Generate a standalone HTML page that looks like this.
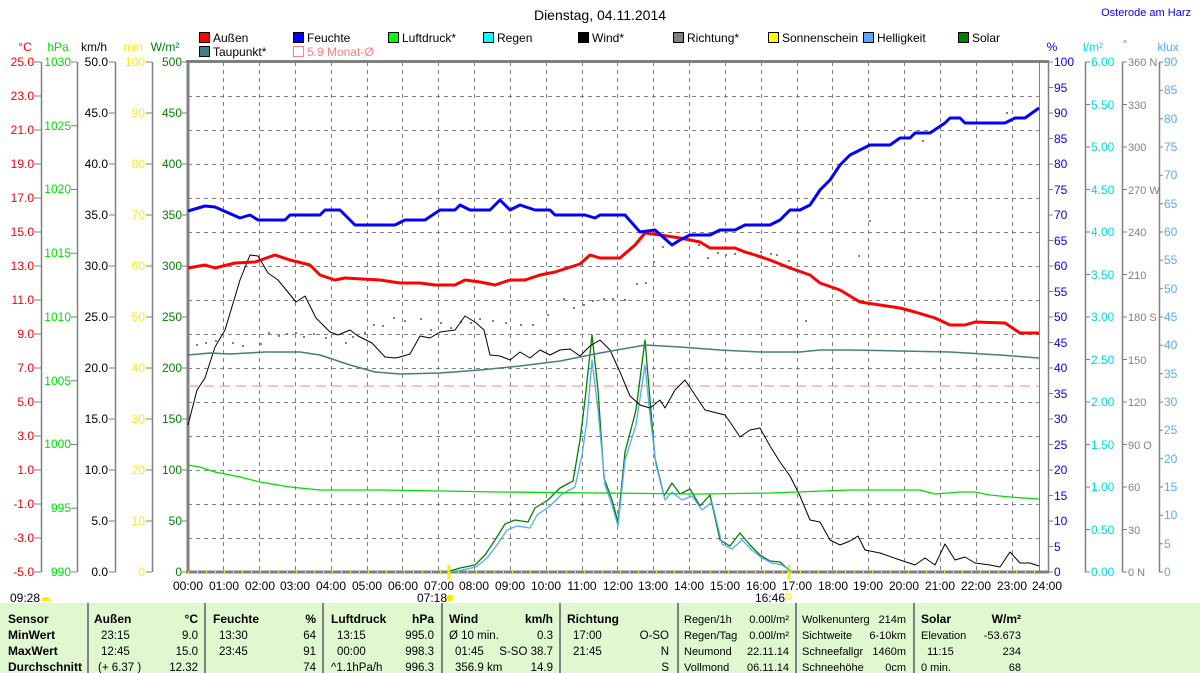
<!DOCTYPE html>
<html><head><meta charset="utf-8"><style>
html,body{margin:0;padding:0;background:#fff;width:1200px;height:673px;overflow:hidden}
svg{display:block;font-family:"Liberation Sans",sans-serif}
</style></head><body>
<svg width="1200" height="673" viewBox="0 0 1200 673" xmlns="http://www.w3.org/2000/svg" font-size="12">
<text x="600" y="20" text-anchor="middle" font-size="14">Dienstag, 04.11.2014</text>
<text x="1191" y="16" text-anchor="end" font-size="11" fill="#0000ff">Osterode am Harz</text>
<!-- legend -->
<g font-size="12">
<rect x="199.5" y="32.5" width="10" height="10" fill="#ff0000" stroke="#000"/><text x="213" y="42">Außen</text>
<rect x="293.5" y="32.5" width="10" height="10" fill="#0000ff" stroke="#000"/><text x="307" y="42">Feuchte</text>
<rect x="388.5" y="32.5" width="10" height="10" fill="#00ff00" stroke="#000"/><text x="402" y="42">Luftdruck*</text>
<rect x="483.5" y="32.5" width="10" height="10" fill="#00ffff" stroke="#000"/><text x="497" y="42">Regen</text>
<rect x="578.5" y="32.5" width="10" height="10" fill="#000" stroke="#000"/><text x="592" y="42">Wind*</text>
<rect x="673.5" y="32.5" width="10" height="10" fill="#808080" stroke="#000"/><text x="687" y="42">Richtung*</text>
<rect x="768.5" y="32.5" width="10" height="10" fill="#ffff00" stroke="#000"/><text x="782" y="42">Sonnenschein</text>
<rect x="863.5" y="32.5" width="10" height="10" fill="#55aaff" stroke="#000"/><text x="877" y="42">Helligkeit</text>
<rect x="958.5" y="32.5" width="10" height="10" fill="#008000" stroke="#000"/><text x="972" y="42">Solar</text>
<rect x="199.5" y="46.5" width="10" height="10" fill="#408080" stroke="#000"/><text x="213" y="56">Taupunkt*</text>
<rect x="293.5" y="46.5" width="10" height="10" fill="none" stroke="#ff8080"/><text x="307" y="56" fill="#ff8080">5.9 Monat-Ø</text>
</g>
<!-- axis headers -->
<text x="25" y="51" fill="#ff0000" text-anchor="middle">°C</text>
<text x="58" y="51" fill="#00e000" text-anchor="middle">hPa</text>
<text x="94" y="51" text-anchor="middle">km/h</text>
<text x="133" y="51" fill="#ffee00" text-anchor="middle">min</text>
<text x="165" y="51" fill="#008000" text-anchor="middle">W/m²</text>
<text x="1052" y="51" fill="#0000ff" text-anchor="middle">%</text>
<text x="1093" y="51" fill="#00dddd" text-anchor="middle">l/m²</text>
<text x="1125" y="48" fill="#808080" text-anchor="middle">°</text>
<text x="1168" y="51" fill="#55aaff" text-anchor="middle">klux</text>
<!-- grid -->
<g stroke="#808080" stroke-width="1" stroke-dasharray="4,4" fill="none">
<path d="M188 96.5H1039M188 130.5H1039M188 164.5H1039M188 198.5H1039M188 232.5H1039M188 266.5H1039M188 300.5H1039M188 334.5H1039M188 368.5H1039M188 402.5H1039M188 436.5H1039M188 470.5H1039M188 504.5H1039M188 538.5H1039"/>
<path d="M223.5 62V572M259.5 62V572M295.5 62V572M331.5 62V572M367.5 62V572M402.5 62V572M438.5 62V572M474.5 62V572M510.5 62V572M546.5 62V572M582.5 62V572M617.5 62V572M653.5 62V572M689.5 62V572M725.5 62V572M761.5 62V572M797.5 62V572M832.5 62V572M868.5 62V572M904.5 62V572M940.5 62V572M976.5 62V572M1012.5 62V572"/>
</g>
<!-- frame -->
<g stroke="#808080" fill="none">
<path d="M188 62V573" stroke-width="3"/>
<path d="M186 61.5H1049" stroke-width="3"/>
<path d="M186 572H1049" stroke-width="3"/>
<path d="M1039.5 62V572" stroke-width="1"/>
<path d="M41.5 62V572M77.5 62V572M115.5 62V572M152.5 62V572M1048.5 62V572M1085.5 62V572M1122.5 62V572M1159.5 62V572" stroke-width="1.5"/>
</g>
<path d="M188 572H1039" stroke="#ffff00" stroke-dasharray="1,8" stroke-width="2"/>
<!-- ticks left -->
<g stroke="#808080">
<path d="M34 62h7M34 96h7M34 130h7M34 164h7M34 198h7M34 232h7M34 266h7M34 300h7M34 334h7M34 368h7M34 402h7M34 436h7M34 470h7M34 504h7M34 538h7M34 572h7"/>
<path d="M71 62h6M71 125.75h6M71 189.5h6M71 253.25h6M71 317h6M71 380.75h6M71 444.5h6M71 508.25h6M71 572h6"/>
<path d="M109 62h6M109 113h6M109 164h6M109 215h6M109 266h6M109 317h6M109 368h6M109 419h6M109 470h6M109 521h6M109 572h6"/>
<path d="M146 62h6M146 113h6M146 164h6M146 215h6M146 266h6M146 317h6M146 368h6M146 419h6M146 470h6M146 521h6M146 572h6"/>
<path d="M182 62h6M182 113h6M182 164h6M182 215h6M182 266h6M182 317h6M182 368h6M182 419h6M182 470h6M182 521h6M182 572h6"/>
</g>
<g text-anchor="end" fill="#ff0000">
<text x="34" y="66">25.0</text><text x="34" y="100">23.0</text><text x="34" y="134">21.0</text><text x="34" y="168">19.0</text><text x="34" y="202">17.0</text><text x="34" y="236">15.0</text><text x="34" y="270">13.0</text><text x="34" y="304">11.0</text><text x="34" y="338">9.0</text><text x="34" y="372">7.0</text><text x="34" y="406">5.0</text><text x="34" y="440">3.0</text><text x="34" y="474">1.0</text><text x="34" y="508">-1.0</text><text x="34" y="542">-3.0</text><text x="34" y="576">-5.0</text>
</g>
<g text-anchor="end" fill="#00e000">
<text x="71" y="66">1030</text><text x="71" y="130">1025</text><text x="71" y="193">1020</text><text x="71" y="257">1015</text><text x="71" y="321">1010</text><text x="71" y="385">1005</text><text x="71" y="448">1000</text><text x="71" y="512">995</text><text x="71" y="576">990</text>
</g>
<g text-anchor="end">
<text x="108" y="66">50.0</text><text x="108" y="117">45.0</text><text x="108" y="168">40.0</text><text x="108" y="219">35.0</text><text x="108" y="270">30.0</text><text x="108" y="321">25.0</text><text x="108" y="372">20.0</text><text x="108" y="423">15.0</text><text x="108" y="474">10.0</text><text x="108" y="525">5.0</text><text x="108" y="576">0.0</text>
</g>
<g text-anchor="end" fill="#ffee00">
<text x="145" y="66">100</text><text x="145" y="117">90</text><text x="145" y="168">80</text><text x="145" y="219">70</text><text x="145" y="270">60</text><text x="145" y="321">50</text><text x="145" y="372">40</text><text x="145" y="423">30</text><text x="145" y="474">20</text><text x="145" y="525">10</text><text x="145" y="576">0</text>
</g>
<g text-anchor="end" fill="#008000">
<text x="182" y="66">500</text><text x="182" y="117">450</text><text x="182" y="168">400</text><text x="182" y="219">350</text><text x="182" y="270">300</text><text x="182" y="321">250</text><text x="182" y="372">200</text><text x="182" y="423">150</text><text x="182" y="474">100</text><text x="182" y="525">50</text><text x="182" y="576">0</text>
</g>
<!-- ticks right -->
<g stroke="#808080">
<path d="M1048 62h5M1048 87.5h5M1048 113h5M1048 138.5h5M1048 164h5M1048 189.5h5M1048 215h5M1048 240.5h5M1048 266h5M1048 291.5h5M1048 317h5M1048 342.5h5M1048 368h5M1048 393.5h5M1048 419h5M1048 444.5h5M1048 470h5M1048 495.5h5M1048 521h5M1048 546.5h5M1048 572h5"/>
<path d="M1085 62h5M1085 104.5h5M1085 147h5M1085 189.5h5M1085 232h5M1085 274.5h5M1085 317h5M1085 359.5h5M1085 402h5M1085 444.5h5M1085 487h5M1085 529.5h5M1085 572h5"/>
<path d="M1122 62h5M1122 104.5h5M1122 147h5M1122 189.5h5M1122 232h5M1122 274.5h5M1122 317h5M1122 359.5h5M1122 402h5M1122 444.5h5M1122 487h5M1122 529.5h5M1122 572h5"/>
<path d="M1159 62h4M1159 90.3h4M1159 118.7h4M1159 147h4M1159 175.3h4M1159 203.7h4M1159 232h4M1159 260.3h4M1159 288.7h4M1159 317h4M1159 345.3h4M1159 373.7h4M1159 402h4M1159 430.3h4M1159 458.7h4M1159 487h4M1159 515.3h4M1159 543.7h4M1159 572h4"/>
</g>
<g fill="#0000ff">
<text x="1054" y="66">100</text><text x="1054" y="92">95</text><text x="1054" y="117">90</text><text x="1054" y="143">85</text><text x="1054" y="168">80</text><text x="1054" y="194">75</text><text x="1054" y="219">70</text><text x="1054" y="245">65</text><text x="1054" y="270">60</text><text x="1054" y="296">55</text><text x="1054" y="321">50</text><text x="1054" y="347">45</text><text x="1054" y="372">40</text><text x="1054" y="398">35</text><text x="1054" y="423">30</text><text x="1054" y="449">25</text><text x="1054" y="474">20</text><text x="1054" y="500">15</text><text x="1054" y="525">10</text><text x="1054" y="551">5</text><text x="1054" y="576">0</text>
</g>
<g fill="#00dddd">
<text x="1091" y="66">6.00</text><text x="1091" y="109">5.50</text><text x="1091" y="151">5.00</text><text x="1091" y="194">4.50</text><text x="1091" y="236">4.00</text><text x="1091" y="279">3.50</text><text x="1091" y="321">3.00</text><text x="1091" y="364">2.50</text><text x="1091" y="406">2.00</text><text x="1091" y="449">1.50</text><text x="1091" y="491">1.00</text><text x="1091" y="534">0.50</text><text x="1091" y="576">0.00</text>
</g>
<g fill="#808080" font-size="11">
<text x="1128" y="66">360 N</text><text x="1128" y="109">330</text><text x="1128" y="151">300</text><text x="1128" y="194">270 W</text><text x="1128" y="236">240</text><text x="1128" y="279">210</text><text x="1128" y="321">180 S</text><text x="1128" y="364">150</text><text x="1128" y="406">120</text><text x="1128" y="449">90  O</text><text x="1128" y="491">60</text><text x="1128" y="534">30</text><text x="1128" y="576">0   N</text>
</g>
<g fill="#55aaff">
<text x="1164" y="66">90</text><text x="1164" y="94">85</text><text x="1164" y="123">80</text><text x="1164" y="151">75</text><text x="1164" y="179">70</text><text x="1164" y="208">65</text><text x="1164" y="236">60</text><text x="1164" y="264">55</text><text x="1164" y="293">50</text><text x="1164" y="321">45</text><text x="1164" y="349">40</text><text x="1164" y="378">35</text><text x="1164" y="406">30</text><text x="1164" y="434">25</text><text x="1164" y="463">20</text><text x="1164" y="491">15</text><text x="1164" y="519">10</text><text x="1164" y="548">5</text><text x="1164" y="576">0</text>
</g>
<!-- time labels -->
<g text-anchor="middle">
<text x="188" y="590">00:00</text><text x="224" y="590">01:00</text><text x="260" y="590">02:00</text><text x="295" y="590">03:00</text><text x="331" y="590">04:00</text><text x="367" y="590">05:00</text><text x="403" y="590">06:00</text><text x="439" y="590">07:00</text><text x="474" y="590">08:00</text><text x="510" y="590">09:00</text><text x="546" y="590">10:00</text><text x="582" y="590">11:00</text><text x="618" y="590">12:00</text><text x="653" y="590">13:00</text><text x="689" y="590">14:00</text><text x="725" y="590">15:00</text><text x="761" y="590">16:00</text><text x="797" y="590">17:00</text><text x="833" y="590">18:00</text><text x="868" y="590">19:00</text><text x="904" y="590">20:00</text><text x="940" y="590">21:00</text><text x="976" y="590">22:00</text><text x="1012" y="590">23:00</text><text x="1047" y="590">24:00</text>
</g>
<text x="10" y="602">09:28</text><path d="M41 601a5 4 0 0 1 10 0z" fill="#ffee00"/>
<text x="417" y="602">07:18</text><circle cx="450" cy="598" r="3.5" fill="#ffee00"/>
<text x="755" y="602">16:46</text><rect x="786" y="594" width="5" height="5" fill="none" stroke="#ffee00"/>
<path d="M449 565V579M789 565V579" stroke="#ffee00" stroke-width="3"/>
<!-- red dashed monthly -->
<path d="M188 386H1039" stroke="#ff8080" stroke-dasharray="10,6"/>
<!-- direction dots -->
<g fill="#808080">
<rect x="196" y="344" width="2" height="2"/><rect x="205" y="342" width="2" height="2"/><rect x="215" y="340" width="2" height="2"/><rect x="232" y="342" width="2" height="2"/><rect x="242" y="345" width="2" height="2"/><rect x="260" y="343" width="2" height="2"/><rect x="268" y="332" width="2" height="2"/><rect x="278" y="335" width="2" height="2"/><rect x="286" y="333" width="2" height="2"/><rect x="295" y="332" width="2" height="2"/><rect x="303" y="336" width="2" height="2"/><rect x="313" y="333" width="2" height="2"/><rect x="325" y="337" width="2" height="2"/><rect x="345" y="342" width="2" height="2"/><rect x="352" y="336" width="2" height="2"/><rect x="364" y="332" width="2" height="2"/><rect x="373" y="324" width="2" height="2"/><rect x="382" y="325" width="2" height="2"/><rect x="393" y="317" width="2" height="2"/><rect x="404" y="320" width="2" height="2"/><rect x="420" y="318" width="2" height="2"/><rect x="430" y="329" width="2" height="2"/><rect x="440" y="322" width="2" height="2"/><rect x="450" y="327" width="2" height="2"/><rect x="460" y="321" width="2" height="2"/><rect x="470" y="322" width="2" height="2"/><rect x="479" y="318" width="2" height="2"/><rect x="492" y="320" width="2" height="2"/><rect x="505" y="322" width="2" height="2"/><rect x="520" y="324" width="2" height="2"/><rect x="532" y="324" width="2" height="2"/><rect x="547" y="314" width="2" height="2"/><rect x="563" y="298" width="2" height="2"/><rect x="573" y="307" width="2" height="2"/><rect x="583" y="304" width="2" height="2"/><rect x="592" y="300" width="2" height="2"/><rect x="603" y="298" width="2" height="2"/><rect x="612" y="298" width="2" height="2"/><rect x="624" y="299" width="2" height="2"/><rect x="636" y="283" width="2" height="2"/><rect x="645" y="282" width="2" height="2"/><rect x="653" y="261" width="2" height="2"/><rect x="662" y="246" width="2" height="2"/><rect x="698" y="244" width="2" height="2"/><rect x="707" y="257" width="2" height="2"/><rect x="717" y="252" width="2" height="2"/><rect x="725" y="254" width="2" height="2"/><rect x="734" y="253" width="2" height="2"/><rect x="750" y="252" width="2" height="2"/><rect x="760" y="251" width="2" height="2"/><rect x="770" y="253" width="2" height="2"/><rect x="776" y="254" width="2" height="2"/><rect x="788" y="260" width="2" height="2"/><rect x="805" y="320" width="2" height="2"/><rect x="858" y="255" width="2" height="2"/><rect x="869" y="220" width="2" height="2"/><rect x="922" y="140" width="2" height="2"/><rect x="1006" y="112" width="2" height="2"/><rect x="1031" y="112" width="2" height="2"/>
</g>
<!-- series -->
<g fill="none" stroke-linejoin="round">
<polyline stroke="#008000" stroke-width="1.3" points="450,571 460,568 475,565 485,555 495,540 505,524 515,520 528,522 535,508 548,500 560,488 573,481 580,440 585,400 592,335 598,390 604,478 612,500 618,522 625,452 636,410 645,340 650,400 655,458 664,496 672,483 680,494 690,489 700,506 710,495 720,540 730,546 740,533 750,545 760,555 770,561 780,562 790,571"/>
<polyline stroke="#55aaff" stroke-width="1.3" points="450,572 462,570 476,567 487,558 497,545 507,530 517,526 530,528 537,515 550,506 562,494 575,487 582,455 587,420 592,360 598,410 605,485 612,505 618,526 625,460 636,425 645,365 650,415 656,465 665,500 672,492 682,500 692,496 702,510 712,502 722,544 732,549 742,540 752,550 762,558 772,563 782,565 792,572"/>
<polyline stroke="#000" stroke-width="1" points="188,425 197,390 205,378 215,347 225,330 240,280 250,255 258,256 268,273 278,280 296,302 305,296 316,318 330,332 338,335 350,330 358,336 372,343 385,357 395,358 400,357 410,354 420,336 430,338 440,332 455,330 465,316 475,322 484,330 490,355 500,356 510,360 520,352 530,358 540,350 550,355 560,350 570,349 580,356 590,346 600,340 610,350 620,372 630,396 640,405 650,408 660,400 665,408 675,390 685,380 695,395 705,410 725,415 730,422 740,437 750,430 760,428 770,446 780,462 790,476 800,496 810,520 820,522 830,540 840,545 850,541 858,536 865,550 880,553 900,560 915,565 925,558 935,565 945,544 955,560 965,557 975,563 990,565 1000,567 1010,552 1020,563 1030,563 1039,566"/>
<polyline stroke="#00dd00" stroke-width="1.3" points="188,465 200,467 215,472 240,477 260,482 290,487 320,490 380,490 500,492 700,494 770,493 850,490 920,490 935,494 960,492 975,492 990,495 1010,497 1039,499"/>
<polyline stroke="#408080" stroke-width="1.5" points="188,355 210,353 230,354 265,352 300,352 320,355 350,365 375,372 400,374 440,373 480,370 520,366 560,361 600,353 645,345 680,347 720,350 760,352 800,352 820,350 850,350 900,351 950,352 1000,355 1039,358"/>
<polyline stroke="#ff0000" stroke-width="3" points="188,268 205,265 215,268 235,263 255,262 275,255 290,260 310,265 320,275 335,280 345,278 380,280 400,283 420,283 435,285 455,285 465,280 480,282 495,285 510,280 525,280 540,275 555,272 580,264 590,255 600,258 620,258 635,245 645,233 660,235 680,238 700,242 710,248 735,248 745,252 755,255 770,260 790,268 810,275 820,283 840,290 860,302 880,305 900,308 915,312 935,318 950,325 965,325 975,322 1005,323 1020,333 1039,333"/>
<polyline stroke="#0000ff" stroke-width="3" points="188,211 205,206 215,207 240,218 250,215 258,220 285,220 290,215 320,215 325,210 340,210 355,225 395,225 405,220 425,220 440,210 455,210 460,205 470,210 490,210 500,200 510,210 520,205 535,210 550,210 555,215 585,215 595,218 600,215 625,215 640,232 655,230 672,245 680,240 690,235 710,235 720,230 735,230 745,225 770,225 780,220 790,210 800,210 810,205 820,190 830,180 840,165 850,155 860,150 870,145 890,145 900,138 910,138 915,133 930,133 945,123 950,118 960,118 965,123 1005,123 1015,118 1025,118 1039,108"/>
</g>
<!-- table -->
<rect x="0" y="603" width="1200" height="70" fill="#e0f8d0"/>
<g stroke="#808080" stroke-width="2">
<path d="M88 603V673M205 603V673M323 603V673M442 603V673M560 603V673M678 603V673M796 603V673M914 603V673"/>
</g>
<g font-size="12" font-weight="bold">
<text x="8" y="623">Sensor</text><text x="8" y="639">MinWert</text><text x="8" y="655">MaxWert</text><text x="8" y="671">Durchschnitt</text>
<text x="94" y="623">Außen</text><text x="198" y="623" text-anchor="end">°C</text>
<text x="213" y="623">Feuchte</text><text x="316" y="623" text-anchor="end">%</text>
<text x="331" y="623">Luftdruck</text><text x="434" y="623" text-anchor="end">hPa</text>
<text x="449" y="623">Wind</text><text x="553" y="623" text-anchor="end">km/h</text>
<text x="567" y="623">Richtung</text>
<text x="921" y="623">Solar</text><text x="1021" y="623" text-anchor="end">W/m²</text>
</g>
<g font-size="11.5">
<text x="101" y="639">23:15</text><text x="198" y="639" text-anchor="end">9.0</text>
<text x="101" y="655">12:45</text><text x="198" y="655" text-anchor="end">15.0</text>
<text x="98" y="671">(+ 6.37 )</text><text x="198" y="671" text-anchor="end">12.32</text>
<text x="219" y="639">13:30</text><text x="316" y="639" text-anchor="end">64</text>
<text x="219" y="655">23:45</text><text x="316" y="655" text-anchor="end">91</text>
<text x="316" y="671" text-anchor="end">74</text>
<text x="337" y="639">13:15</text><text x="434" y="639" text-anchor="end">995.0</text>
<text x="337" y="655">00:00</text><text x="434" y="655" text-anchor="end">998.3</text>
<text x="331" y="671">^1.1hPa/h</text><text x="434" y="671" text-anchor="end">996.3</text>
<text x="449" y="639">Ø 10 min.</text><text x="553" y="639" text-anchor="end">0.3</text>
<text x="455" y="655">01:45</text><text x="553" y="655" text-anchor="end">S-SO 38.7</text>
<text x="455" y="671">356.9 km</text><text x="553" y="671" text-anchor="end">14.9</text>
<text x="573" y="639">17:00</text><text x="669" y="639" text-anchor="end">O-SO</text>
<text x="573" y="655">21:45</text><text x="669" y="655" text-anchor="end">N</text>
<text x="669" y="671" text-anchor="end">S</text>
</g>
<g font-size="11">
<text x="684" y="623">Regen/1h</text><text x="789" y="623" text-anchor="end">0.00l/m²</text>
<text x="684" y="639">Regen/Tag</text><text x="789" y="639" text-anchor="end">0.00l/m²</text>
<text x="684" y="655">Neumond</text><text x="789" y="655" text-anchor="end">22.11.14</text>
<text x="684" y="671">Vollmond</text><text x="789" y="671" text-anchor="end">06.11.14</text>
<text x="802" y="623">Wolkenunterg</text><text x="906" y="623" text-anchor="end">214m</text>
<text x="802" y="639">Sichtweite</text><text x="906" y="639" text-anchor="end">6-10km</text>
<text x="802" y="655">Schneefallgr</text><text x="906" y="655" text-anchor="end">1460m</text>
<text x="802" y="671">Schneehöhe</text><text x="906" y="671" text-anchor="end">0cm</text>
<text x="921" y="639">Elevation</text><text x="1021" y="639" text-anchor="end">-53.673</text>
<text x="927" y="655">11:15</text><text x="1021" y="655" text-anchor="end">234</text>
<text x="921" y="671">0 min.</text><text x="1021" y="671" text-anchor="end">68</text>
</g>
</svg>
</body></html>
